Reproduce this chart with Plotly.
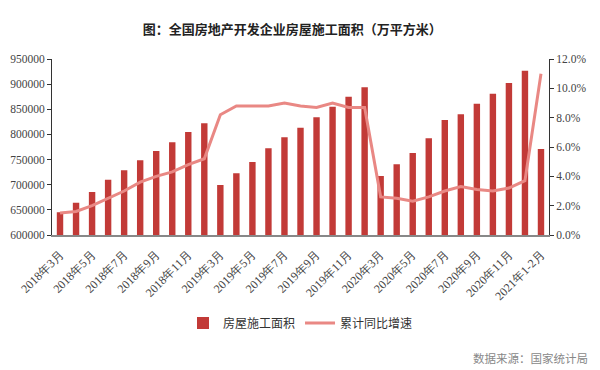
import plotly.graph_objects as go

months = (
    [f"2018年{m}月" for m in range(3, 13)]
    + [f"2019年{m}月" for m in range(3, 13)]
    + [f"2020年{m}月" for m in range(3, 13)]
    + ["2021年1-2月"]
)

area = [
    645000, 664300, 685500, 710000, 728600, 748500, 767000, 784400, 805000, 822300,
    699500, 722700, 745200, 772400, 794300, 813400, 834100, 855200, 875100, 893800,
    717400, 740600, 763100, 792300, 828700, 840000, 861200, 881100, 902300, 926800,
    771000,
]

growth = [
    1.5, 1.6, 2.0, 2.5, 3.0, 3.6, 4.0, 4.3, 4.8, 5.2,
    8.2, 8.8, 8.8, 8.8, 9.0, 8.8, 8.7, 9.0, 8.7, 8.7,
    2.6, 2.5, 2.3, 2.6, 3.0, 3.3, 3.1, 3.0, 3.2, 3.7,
    11.0,
]

left_ticks = [600000, 650000, 700000, 750000, 800000, 850000, 900000, 950000]
right_ticks = [0, 2, 4, 6, 8, 10, 12]

serif = "'Liberation Serif', 'Times New Roman', serif"
cjk = "'Noto Sans CJK SC', sans-serif"

fig = go.Figure()
fig.add_trace(go.Bar(
    x=months, y=area, name="房屋施工面积",
    marker=dict(color="#C23A37", line=dict(width=0)),
    yaxis="y",
))
fig.add_trace(go.Scatter(
    x=months, y=growth, name="累计同比增速", mode="lines",
    line=dict(color="#E98884", width=3),
    yaxis="y2",
))

fig.update_layout(
    width=600, height=370,
    margin=dict(l=52, r=51, t=59, b=135, autoexpand=False),
    plot_bgcolor="white", paper_bgcolor="white",
    bargap=0.6,
    showlegend=True,
    title=dict(
        text="<b>图：全国房地产开发企业房屋施工面积（万平方米）</b>",
        font=dict(family=cjk, size=13, color="#222"),
        x=0.487, xanchor="center", y=1 - 29 / 370, yanchor="middle",
    ),
    legend=dict(
        orientation="h", x=0.5, xanchor="center", y=-0.5, yanchor="middle",
        font=dict(family=cjk, size=12, color="#333"),
        traceorder="normal", itemwidth=30,
    ),
    xaxis=dict(
        type="category", categoryorder="array", categoryarray=months,
        tickmode="array", tickvals=[months[i] for i in range(0, len(months), 2)],
        tickangle=-45, tickfont=dict(family=serif, size=12, color="#444"),
        ticklabelstandoff=6,
        showline=True, linecolor="#888", linewidth=2,
        ticks="", showgrid=False, zeroline=False, automargin=False,
    ),
    yaxis=dict(
        range=[600000, 950000], tickmode="array", tickvals=left_ticks,
        ticktext=[str(v) for v in left_ticks],
        tickfont=dict(family=serif, size=11.5, color="#444"),
        showline=True, linecolor="#333", linewidth=1,
        ticks="outside", ticklen=4, tickcolor="#333",
        showgrid=False, zeroline=False, automargin=False,
    ),
    yaxis2=dict(
        range=[0, 12], overlaying="y", side="right", tickmode="array",
        tickvals=right_ticks, ticktext=[f"{v:.1f}%" for v in right_ticks],
        tickfont=dict(family=serif, size=11.5, color="#444"),
        showline=True, linecolor="#333", linewidth=1,
        ticks="outside", ticklen=4, tickcolor="#333",
        showgrid=False, zeroline=False, automargin=False,
    ),
    annotations=[dict(
        text="数据来源：国家统计局", xref="paper", yref="paper",
        x=1.083, y=-0.70, xanchor="right", yanchor="middle", showarrow=False,
        font=dict(family=cjk, size=11.5, color="#888"),
    )],
)

fig.write_html("out.html", config={"displayModeBar": False},
               post_script="document.body.style.margin='0';")
